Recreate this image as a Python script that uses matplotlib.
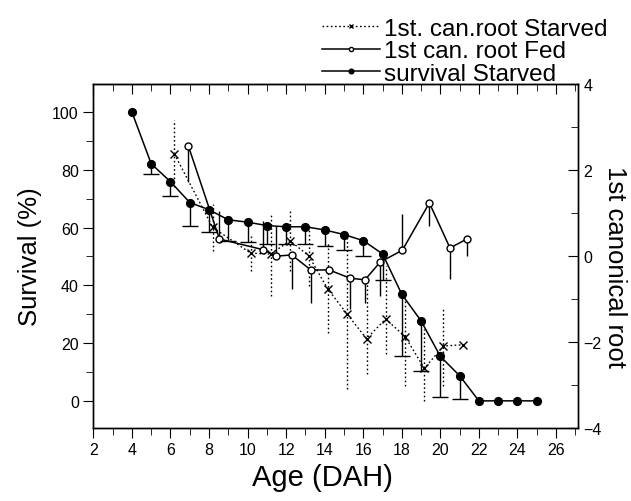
import numpy as np
import matplotlib
matplotlib.use("Agg")
import matplotlib.pyplot as plt
from matplotlib.ticker import MultipleLocator, NullFormatter

plt.rcParams['font.family'] = ['Liberation Sans', 'DejaVu Sans']

# survival of starved larvae (left axis)
surv_age = [4, 5, 6, 7, 8, 9, 10, 11, 12, 13, 14, 15, 16, 17, 18, 19, 20, 21, 22, 23, 24, 25]
surv_pct = [100, 82.1, 75.9, 68.7, 66.2, 62.7, 61.9, 60.7, 60.3, 60.3, 59.2, 57.6,
            55.5, 50.9, 36.9, 27.7, 15.4, 8.7, 0, 0, 0, 0]
surv_low = [np.nan, 78.6, 70.9, 60.5, 58.4, 55.5, 54.9, 54.3, 54.3, 54.3, 53.7, 52.2,
            50.3, 42.0, 15.6, 10.4, 1.2, 0.6, np.nan, np.nan, np.nan, np.nan]

# 1st canonical root, starved (right axis)
starv_age = [6.2, 8.19, 10.16, 11.2, 12.2, 13.17, 14.17, 15.17, 16.17, 17.16, 18.17, 19.17, 20.16, 21.16]
starv_root = [2.37, 0.66, 0.06, 0.04, 0.35, 0.0, -0.78, -1.36, -1.93, -1.47, -1.88, -2.62, -2.10, -2.07]
starv_lo = [1.6, 0.12, -0.35, -0.93, -0.35, -0.7, -1.8, -3.11, -2.76, -2.29, -3.03, -3.38, -3.03, np.nan]
starv_hi = [3.15, 1.2, 0.47, 0.97, 1.05, 0.7, 0.3, 0.42, -0.6, -0.23, -1.0, -1.71, -1.23, np.nan]

# 1st canonical root, fed (right axis)
fed_age = [6.93, 8.54, 10.82, 11.48, 12.29, 13.28, 14.23, 15.31, 16.09, 16.87, 18.03, 19.43, 20.5, 21.37]
fed_root = [2.55, 0.39, 0.14, -0.01, 0.02, -0.33, -0.33, -0.52, -0.56, -0.15, 0.13, 1.23, 0.18, 0.39]
fed_err_end = [1.71, 1.05, 0.82, 0.70, -0.77, -1.09, np.nan, -1.24, -1.09, -0.93, 0.97, 0.70, -0.54, 0.0]

fig = plt.figure(figsize=(6.31, 5.02), dpi=100)
ax = fig.add_axes([0.148, 0.146, 0.768, 0.685])
ax2 = ax.twinx()

# starved canonical root, dotted
ax2.vlines(starv_age, starv_lo, starv_hi, colors='black', linestyles=(0, (1.2, 1.8)), linewidth=1)
l1, = ax2.plot(starv_age, starv_root, color='black', linestyle=(0, (1.2, 1.8)), linewidth=1,
               marker='x', markersize=5.5, markeredgewidth=1)

# fed canonical root, solid with open circles
ax2.vlines(fed_age, fed_root, fed_err_end, colors='black', linewidth=1)
l2, = ax2.plot(fed_age, fed_root, color='black', linewidth=1.1, marker='o', markersize=5,
               markerfacecolor='white', markeredgecolor='black', markeredgewidth=1)

# survival, filled circles with lower error bars and caps
ax.vlines(surv_age, surv_low, surv_pct, colors='black', linewidth=1)
ax.plot(surv_age, surv_low, linestyle='none', marker='_', markersize=11, markeredgewidth=1, color='black')
l3, = ax.plot(surv_age, surv_pct, color='black', linewidth=1.1, marker='o', markersize=5.6)

ax.set_zorder(ax2.get_zorder() + 1)
ax.patch.set_visible(False)

ax.set_xlim(2, 27.14)
ax.set_ylim(-9.3, 109.8)
ax2.set_ylim(-4, 4)

ax.xaxis.set_major_locator(MultipleLocator(2))
ax.xaxis.set_minor_locator(MultipleLocator(1))
ax.yaxis.set_major_locator(MultipleLocator(20))
ax.yaxis.set_minor_locator(MultipleLocator(10))
ax2.yaxis.set_major_locator(MultipleLocator(2))
ax2.yaxis.set_minor_locator(MultipleLocator(1))

ax.tick_params(axis='x', which='both', direction='out', labelsize=11.5, pad=3)
ax.tick_params(axis='x', which='major', length=7)
ax.tick_params(axis='x', which='minor', length=5)
ax.tick_params(axis='y', which='both', direction='out', labelsize=11.5)
ax.tick_params(axis='y', which='major', length=7)
ax.tick_params(axis='y', which='minor', length=5)
ax2.tick_params(axis='y', which='both', direction='in', labelsize=11.5, pad=4)
ax2.tick_params(axis='y', which='major', length=7)
ax2.tick_params(axis='y', which='minor', length=5)

# top spine ticks point inward
top = ax.secondary_xaxis('top')
top.xaxis.set_major_locator(MultipleLocator(2))
top.xaxis.set_minor_locator(MultipleLocator(1))
top.xaxis.set_major_formatter(NullFormatter())
top.tick_params(which='both', direction='in')
top.tick_params(which='major', length=7)
top.tick_params(which='minor', length=5)

for a in (ax, ax2):
    for s in a.spines.values():
        s.set_linewidth(1)

ax.set_xlabel('Age (DAH)', fontsize=21)
ax.xaxis.set_label_coords(0.472, -0.103)
ax.set_ylabel('Survival (%)', fontsize=18.5, labelpad=7)
ax2.set_ylabel('1st canonical root', fontsize=18.5, rotation=270)
ax2.yaxis.set_label_coords(1.102, 0.47)

fig.legend([l1, l2, l3], ['1st. can.root Starved', '1st can. root Fed', 'survival Starved'],
           loc='upper right', bbox_to_anchor=(0.962, 0.963), frameon=False, fontsize=17.5,
           markerscale=0.6, handlelength=2.4, handletextpad=0.15, labelspacing=0.02,
           borderpad=0, borderaxespad=0)

fig.savefig('out.png', dpi=100)
